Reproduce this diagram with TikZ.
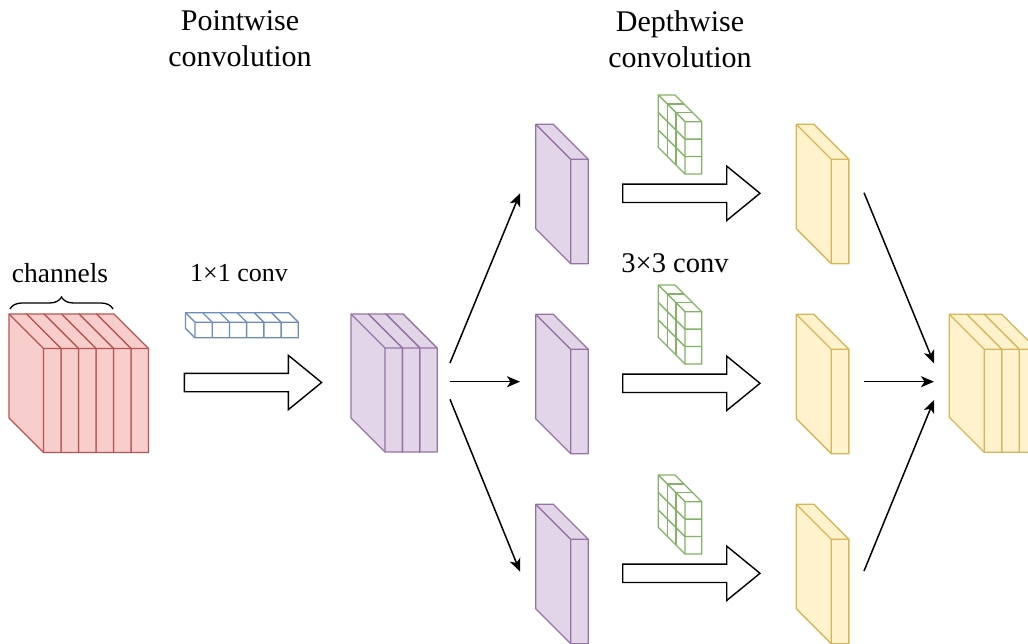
\documentclass[tikz,border=0pt]{standalone}
\usepackage{fontspec}
\setmainfont{Liberation Serif}
\usetikzlibrary{arrows.meta,calc,decorations.pathreplacing}
\definecolor{redF}{HTML}{F8CECC}\definecolor{redS}{HTML}{B85450}
\definecolor{purF}{HTML}{E1D5E7}\definecolor{purS}{HTML}{9673A6}
\definecolor{yelF}{HTML}{FFF2CC}\definecolor{yelS}{HTML}{D6B656}
\definecolor{grnS}{HTML}{82B366}\definecolor{bluS}{HTML}{6C8EBF}
\tikzset{
  redslab/.style={fill=redF,draw=redS},
  purslab/.style={fill=purF,draw=purS},
  yelslab/.style={fill=yelF,draw=yelS},
  kern/.style={draw=grnS,fill=white},
  onebyone/.style={draw=bluS,fill=white},
  blockarrow/.style={draw=black,fill=white,line width=1.4pt,line join=miter},
  thinarrow/.style={draw=black,line width=1.5pt,-{Stealth[length=13pt,width=11pt,inset=3.5pt]}},
  lbl/.style={font=\fontsize{26}{31}\selectfont,inner sep=0pt,align=center},
  title/.style={font=\fontsize{30}{36}\selectfont,inner sep=0pt,align=center},
}
% slab: x y w h d style  (x,y = back top-left corner)
\newcommand\slab[6]{%
  \filldraw[#6,line width=1.35pt,line join=round] (#1,#2) -- ({#1+#3},#2) -- ({#1+#3+#5},{#2+#5}) -- ({#1+#3+#5},{#2+#5+#4}) -- ({#1+#5},{#2+#5+#4}) -- (#1,{#2+#4}) -- cycle;
  \draw[#6,fill=none,line width=1.35pt,line join=round] (#1,#2) -- ({#1+#5},{#2+#5}) -- ({#1+#5+#3},{#2+#5}) ({#1+#5},{#2+#5}) -- ({#1+#5},{#2+#5+#4});
}
% kernel: x y (back top-left), w=16.7, H=52.3, D=26.7, 3x3 grid
\newcommand\kernel[2]{%
  \slab{#1}{#2}{16.7}{52.3}{26.7}{kern}
  \foreach \k in {1,2}{%
    \draw[grnS,line width=1.35pt] ({#1+\k*8.9},{#2+\k*8.9}) -- ({#1+\k*8.9+16.7},{#2+\k*8.9});
    \draw[grnS,line width=1.35pt] ({#1+\k*8.9},{#2+\k*8.9}) -- ({#1+\k*8.9},{#2+\k*8.9+52.3});
    \draw[grnS,line width=1.35pt] (#1,{#2+\k*17.43}) -- ({#1+26.7},{#2+26.7+\k*17.43}) -- ({#1+26.7+16.7},{#2+26.7+\k*17.43});
  }%
}
% block arrow starting at named coordinate
\newcommand\blockarr[1]{%
  \draw[blockarrow] (#1) ++(0,-9.2) -- ++(104,0) -- ++(0,-18) -- ++(33.3,27.2) -- ++(-33.3,27.2) -- ++(0,-18) -- ++(-104,0) -- cycle;
}
\begin{document}
\begin{tikzpicture}[x=1pt,y=-1pt]
\useasboundingbox (0,0) rectangle (1028,643);
\clip (0,0) rectangle (1028,643);

% titles and labels
\node[title] (tp) at (240,39) {Pointwise\\convolution};
\node[title] (td) at (680,39) {Depthwise\\convolution};
\node[lbl,font=\fontsize{27.5}{31}\selectfont] (tch) at (60,273) {channels};
\node[lbl] (t11) at (239,273) {1×1 conv};
\node[lbl,font=\fontsize{28.5}{31}\selectfont] (t33) at (675,263) {3×3 conv};

% brace
\draw[line width=1.3pt,decorate,decoration={brace,amplitude=12pt}] (10,309) -- (113,309);

% input red block (6 channels)
\foreach \i in {5,4,...,0}{\slab{9+17.5*\i}{314}{17.5}{104}{34.5}{redslab}}

% 1x1 conv kernel (blue)
\slab{185.5}{312.7}{103.3}{15.6}{9.5}{onebyone}
\foreach \k in {1,...,5}{%
  \draw[bluS,line width=1.35pt] ({185.5+\k*17.22},312.7) -- ({195+\k*17.22},322.2) -- ({195+\k*17.22},337.8);
}

% pointwise output purple block (3 channels)
\foreach \i in {2,1,0}{\slab{351+17.4*\i}{314}{17.4}{104}{34}{purslab}}

% split purple slices
\foreach \j in {0,1,2}{\slab{535.7}{124.3+190*\j}{17.6}{104.4}{35}{purslab}}
% green kernels
\foreach \j in {0,1,2}{\kernel{658.3}{95+190*\j}}
% yellow slices
\foreach \j in {0,1,2}{\slab{796.3}{124.3+190*\j}{17.6}{104.4}{35}{yelslab}}
% output yellow block
\foreach \i in {2,1,0}{\slab{949.3+17.5*\i}{314.3}{17.5}{103}{35}{yelslab}}

% block arrows
\coordinate (ba0) at (184.3,382.5);
\coordinate (ba1) at (622.7,193.3);
\coordinate (ba2) at (622.7,383.3);
\coordinate (ba3) at (622.7,573.3);
\blockarr{ba0}\blockarr{ba1}\blockarr{ba2}\blockarr{ba3}

% thin arrows
\coordinate (sa) at (450,363);   \coordinate (ea) at (520,193.3);
\coordinate (sb) at (450,381.7); \coordinate (eb) at (520,381.7);
\coordinate (sc) at (450,399.3); \coordinate (ec) at (520,571.7);
\coordinate (sd) at (864,192.7); \coordinate (ed) at (934,363.3);
\coordinate (se) at (864,381.7); \coordinate (ee) at (934,381.7);
\coordinate (sf) at (864,571);   \coordinate (ef) at (934,400);
\draw[thinarrow] (sa) -- (ea);
\draw[thinarrow] (sb) -- (eb);
\draw[thinarrow] (sc) -- (ec);
\draw[thinarrow] (sd) -- (ed);
\draw[thinarrow] (se) -- (ee);
\draw[thinarrow] (sf) -- (ef);
\end{tikzpicture}
\end{document}
